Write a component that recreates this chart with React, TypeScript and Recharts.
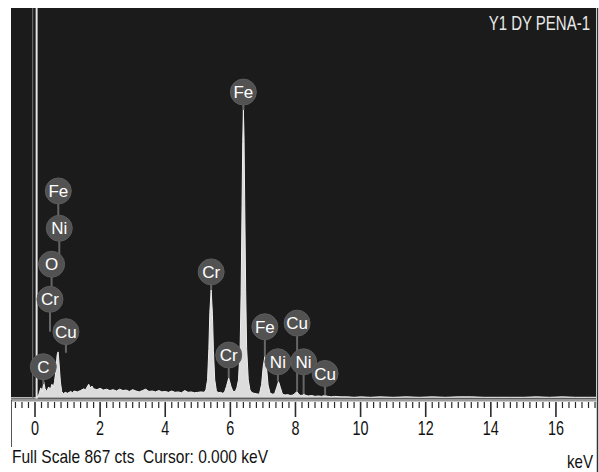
import React from 'react';
import {
  ComposedChart,
  Area,
  XAxis,
  YAxis,
  ReferenceLine,
  ReferenceDot,
  CartesianGrid,
} from 'recharts';

// Spectrum: energy (keV) and counts
const ENERGY_KEV = [
  -0.737, -0.05, 0.05, 0.12, 0.18, 0.22, 0.27, 0.31, 0.36, 0.42, 0.47, 0.52, 0.56, 0.6, 0.64, 0.68, 0.71, 0.74,
  0.78, 0.82, 0.87, 0.93, 1.0, 1.05, 1.1, 1.15, 1.2, 1.3, 1.4, 1.5, 1.55, 1.6, 1.65, 1.7, 1.75, 1.8, 1.9, 2.0,
  2.1, 2.2, 2.3, 2.4, 2.5, 2.6, 2.7, 2.8, 2.9, 3.0, 3.1, 3.2, 3.3, 3.4, 3.5, 3.6, 3.7, 3.8, 3.9, 4.0, 4.1, 4.2,
  4.3, 4.4, 4.5, 4.6, 4.7, 4.8, 4.9, 5.0, 5.1, 5.2, 5.25, 5.3, 5.34, 5.37, 5.41, 5.45, 5.48, 5.52, 5.57, 5.62,
  5.7, 5.76, 5.82, 5.88, 5.95, 6.02, 6.08, 6.15, 6.2, 6.25, 6.3, 6.33, 6.36, 6.38, 6.4, 6.42, 6.44, 6.47, 6.5,
  6.55, 6.6, 6.65, 6.72, 6.8, 6.86, 6.9, 6.96, 7.01, 7.06, 7.11, 7.16, 7.22, 7.3, 7.36, 7.42, 7.48, 7.54, 7.6,
  7.68, 7.76, 7.84, 7.92, 7.98, 8.04, 8.1, 8.16, 8.22, 8.27, 8.32, 8.4, 8.5, 8.6, 8.7, 8.8, 8.9, 9.0, 9.1, 9.2,
  9.4, 9.6, 9.8, 10.0, 10.3, 10.6, 11.0, 11.4, 11.8, 12.2, 12.6, 13.0, 13.4, 13.8, 14.2, 14.6, 15.0, 15.4, 15.8,
  16.2, 16.6, 17.0, 17.23,
];
const COUNTS = [
  0, 0, 0, 8, 22, 12, 35, 20, 14, 24, 18, 30, 22, 36, 60, 95, 102, 75,
  35, 14, 9, 12, 10, 12, 14, 11, 15, 13, 16, 20, 17, 24, 30, 22, 26, 20, 18, 21,
  17, 19, 16, 18, 15, 19, 16, 17, 14, 18, 15, 13, 16, 19, 14, 15, 13, 16, 13, 14, 12, 15,
  12, 13, 11, 16, 12, 13, 11, 12, 13, 12, 18, 40, 110, 190, 240, 185, 105, 40, 16, 11,
  12, 10, 12, 25, 44, 25, 14, 14, 22, 40, 110, 230, 430, 570, 640, 580, 440, 240, 110,
  40, 18, 12, 10, 9, 8, 10, 30, 70, 92, 68, 28, 10, 8, 9, 22, 36, 22, 8,
  6, 7, 5, 6, 9, 14, 8, 5, 6, 8, 5, 4, 5, 3, 4, 3, 5, 3, 2, 3,
  2, 2, 1, 2, 1, 2, 1, 2, 1, 2, 1, 2, 2, 1, 1, 1, 1, 2, 1,
  2, 1, 1, 1,
];

// Axis tick labels (keV)
const MAJOR_TICKS = [0, 2, 4, 6, 8, 10, 12, 14, 16];

// Peak markers: element, energy, marker height (cts), stem end (cts)
const MARK_NAMES = ['C', 'Cu', 'Cr', 'O', 'Ni', 'Fe', 'Cr', 'Cr', 'Fe', 'Fe', 'Ni', 'Cu', 'Ni', 'Cu'];
const MARK_KEV = [0.255, 0.95, 0.46, 0.51, 0.746, 0.716, 5.41, 5.95, 6.4, 7.06, 7.46, 8.05, 8.25, 8.91];
const MARK_CTS = [69, 147, 219, 297, 377, 460, 280, 95, 680, 158, 80, 166, 80, 54];
const STEM_CTS = [30, 100, 147, 219, 297, 377, 240, 44, 640, 92, 36, 14, 8, 5];

const TITLE = 'Y1 DY PENA-1';
const FOOTER = 'Full Scale 867 cts  Cursor: 0.000 keV';
const UNIT = 'keV';

const FONT = "'Liberation Sans', Arial, sans-serif";

const data = ENERGY_KEV.map((e, i) => ({ e, c: COUNTS[i] }));

const rulerTicks: number[] = [];
for (let i = -3; i <= 86; i++) rulerTicks.push(Math.round(i * 2) / 10);

function RulerTick(props: any) {
  const { x, y, payload } = props;
  const v = payload.value;
  const major = MAJOR_TICKS.some((m) => Math.abs(m - v) < 1e-6);
  const label = String(v);
  return (
    <g>
      <line x1={x} x2={x} y1={y + 2} y2={y + (major ? 17 : 8)} stroke="#2a2a2a" strokeWidth={major ? 1.6 : 1.2} />
      {major && (
        <text
          x={x}
          y={y + 35}
          textAnchor="middle"
          fontSize={21}
          fontFamily={FONT}
          fill="#111"
          textLength={label.length * 8}
          lengthAdjust="spacingAndGlyphs"
        >
          {label}
        </text>
      )}
    </g>
  );
}

export default function App() {
  return (
    <div style={{ position: 'absolute', left: 0, top: 0, width: 599, height: 472, background: '#fff', overflow: 'hidden' }}>
      <ComposedChart width={599} height={472} data={data} margin={{ top: 8, right: 3, left: 11, bottom: 0 }}>
        <CartesianGrid fill="#1b1b1b" horizontal={false} vertical={false} stroke="none" />
        <XAxis
          dataKey="e"
          type="number"
          domain={[-0.737, 17.23]}
          ticks={rulerTicks}
          interval={0}
          tickLine={false}
          tickSize={0}
          tickMargin={0}
          tick={<RulerTick />}
          height={72}
          axisLine={{ stroke: '#9a9a9a', strokeWidth: 3 }}
          allowDataOverflow
        />
        <YAxis type="number" domain={[-5, 867]} hide allowDataOverflow />
        <ReferenceLine x={-0.07} stroke="#777" strokeWidth={1} />
        <ReferenceLine x={0.05} stroke="#e4e4e4" strokeWidth={2} />
        <Area
          type="linear"
          dataKey="c"
          stroke="#eeeeee"
          strokeWidth={1}
          fill="#dcdcdc"
          fillOpacity={1}
          isAnimationActive={false}
        />
        {MARK_NAMES.map((n, i) => (
          <ReferenceLine
            key={'s' + i}
            segment={[
              { x: MARK_KEV[i], y: STEM_CTS[i] },
              { x: MARK_KEV[i], y: MARK_CTS[i] },
            ]}
            stroke="#666"
            strokeWidth={2}
          />
        ))}
        {MARK_NAMES.map((n, i) => (
          <ReferenceDot
            key={'d' + i}
            x={MARK_KEV[i]}
            y={MARK_CTS[i]}
            r={13}
            fill="#525252"
            stroke="#5c5c5c"
            strokeWidth={1}
            label={{ value: n, position: 'center', fill: '#ffffff', fontSize: 17, fontFamily: FONT }}
          />
        ))}
      </ComposedChart>
      <svg width={599} height={472} style={{ position: 'absolute', left: 0, top: 0, pointerEvents: 'none' }}>
        <g transform="translate(590,30) scale(1,1.35)">
          <text x={0} y={0} textAnchor="end" fontSize={15} fontFamily={FONT} fill="#e8e8e8">
            {TITLE}
          </text>
        </g>
        <text x={12} y={463} fontSize={19} fontFamily={FONT} fill="#111" textLength={256} lengthAdjust="spacingAndGlyphs" style={{ whiteSpace: 'pre' }}>
          {FOOTER}
        </text>
        <text x={593} y={468} textAnchor="end" fontSize={19} fontFamily={FONT} fill="#111" textLength={26} lengthAdjust="spacingAndGlyphs">
          {UNIT}
        </text>
        <line x1={11.5} x2={11.5} y1={400} y2={447} stroke="#555" strokeWidth={1} />
        <line x1={597.5} x2={597.5} y1={8} y2={472} stroke="#333" strokeWidth={1.5} />
      </svg>
    </div>
  );
}
